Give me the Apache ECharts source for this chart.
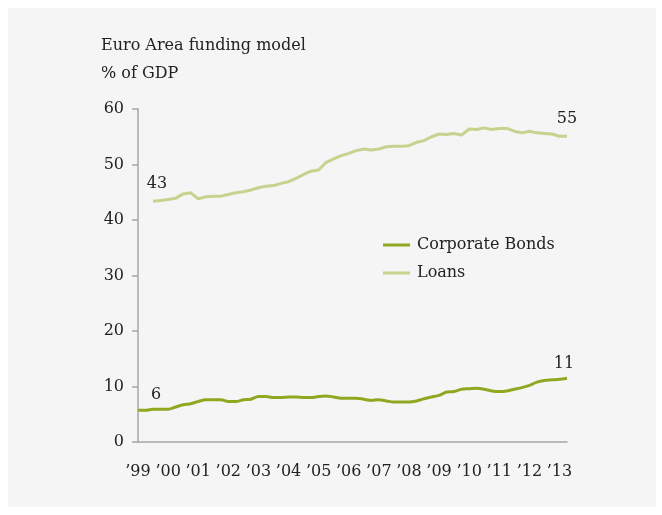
<!DOCTYPE html>
<html>
<head>
<meta charset="utf-8">
<script src="https://cdn.jsdelivr.net/npm/echarts@6/dist/echarts.min.js"></script>
<style>
html,body{margin:0;padding:0;background:#ffffff;}
#wrap{position:absolute;left:8px;top:8px;width:648px;height:499px;background:#f5f5f5;}
#chart{position:absolute;left:-8px;top:-8px;width:662px;height:515px;}
</style>
</head>
<body>
<div id="wrap"><div id="chart"></div></div>
<script>
// Quarterly, 1999Q1 .. 2013Q2
const years = ['99','00','01','02','03','04','05','06','07','08','09','10','11','12','13'];
const quarters = [];
for (const y of years) { for (let q = 1; q <= 4; q++) quarters.push(y + 'Q' + q); }
const categories = quarters.slice(0, 58);

const corporateBonds = [5.7,5.7,5.9,5.9,5.9,6.3,6.7,6.9,7.3,7.6,7.6,7.6,7.3,7.3,7.6,7.7,8.2,8.2,8.0,8.0,
  8.1,8.1,8.0,8.0,8.2,8.3,8.1,7.9,7.9,7.9,7.7,7.5,7.6,7.4,7.2,7.2,7.2,7.4,7.8,8.1,
  8.4,9.0,9.1,9.5,9.6,9.7,9.5,9.2,9.1,9.2,9.5,9.8,10.2,10.8,11.1,11.2,11.3,11.5];

const loans = [null,null,43.4,43.5,43.7,43.9,44.7,44.9,43.8,44.2,44.3,44.3,44.6,44.9,45.1,45.4,45.8,46.1,46.2,46.6,
  46.9,47.5,48.2,48.8,49.0,50.4,51.0,51.6,52.0,52.5,52.8,52.6,52.8,53.2,53.3,53.3,53.4,54.0,54.3,55.0,
  55.5,55.4,55.6,55.3,56.4,56.3,56.6,56.3,56.5,56.5,56.0,55.7,56.0,55.7,55.6,55.5,55.1,55.1];

const endLabels = { bondsFirst: '6', bondsLast: '11', loansFirst: '43', loansLast: '55' };

const FONT = 'DejaVu Serif';
const FS = 16;
const TXT = '#222222';

function withLabels(arr, firstText, lastText, firstOffset, lastOffset) {
  const first = arr.findIndex(v => v !== null);
  const last = arr.length - 1;
  return arr.map((v, i) => {
    if (i === first) return { value: v, label: { show: true, position: 'top', formatter: firstText, offset: firstOffset } };
    if (i === last) return { value: v, label: { show: true, position: 'top', formatter: lastText, offset: lastOffset } };
    return v;
  });
}

const chart = echarts.init(document.getElementById('chart'), null, { renderer: 'canvas' });
chart.setOption({
  backgroundColor: 'transparent',
  animation: false,
  textStyle: { fontFamily: FONT },
  title: {
    text: 'Euro Area funding model\n% of GDP',
    left: 96, top: 27,
    textStyle: { fontFamily: FONT, fontSize: FS, fontWeight: 'normal', color: TXT, lineHeight: 28 }
  },
  legend: {
    orient: 'vertical',
    left: 378, top: 232,
    itemWidth: 27, itemHeight: 3, itemGap: 12,
    icon: 'rect',
    textStyle: { fontFamily: FONT, fontSize: FS, color: TXT, padding: [0,0,0,2] },
    data: ['Corporate Bonds', 'Loans']
  },
  grid: { left: 138, right: 95, top: 109, bottom: 73 },
  xAxis: {
    type: 'category',
    boundaryGap: false,
    data: categories,
    axisLine: { lineStyle: { color: '#a6a6a6', width: 1.5 } },
    axisTick: { show: false },
    axisLabel: {
      interval: 3,
      formatter: v => '\u2019' + v.slice(0, 2),
      fontFamily: FONT, fontSize: FS, color: TXT, margin: 22
    },
    splitLine: { show: false }
  },
  yAxis: {
    type: 'value',
    min: 0, max: 60, interval: 10,
    axisLine: { show: true, lineStyle: { color: '#a6a6a6', width: 1.5 } },
    axisTick: { show: true, inside: false, length: 6, lineStyle: { color: '#a6a6a6', width: 1.5 } },
    axisLabel: { fontFamily: FONT, fontSize: FS, color: TXT, margin: 14 },
    splitLine: { show: false }
  },
  series: [
    {
      name: 'Corporate Bonds', type: 'line',
      symbol: 'circle', symbolSize: 0.01, showSymbol: true, showAllSymbol: true,
      smooth: 0.3,
      data: withLabels(corporateBonds, endLabels.bondsFirst, endLabels.bondsLast, [18, -3], [-3, -1]),
      lineStyle: { color: '#8ea920', width: 3 },
      itemStyle: { color: '#8ea920' },
      label: { show: false, fontFamily: FONT, fontSize: FS, color: TXT },
      z: 3
    },
    {
      name: 'Loans', type: 'line',
      symbol: 'circle', symbolSize: 0.01, showSymbol: true, showAllSymbol: true,
      data: withLabels(loans, endLabels.loansFirst, endLabels.loansLast, [4, -4], [0, -4]),
      lineStyle: { color: '#c6d38e', width: 3 },
      itemStyle: { color: '#c6d38e' },
      label: { show: false, fontFamily: FONT, fontSize: FS, color: TXT },
      z: 2
    }
  ]
});
</script>
</body>
</html>
